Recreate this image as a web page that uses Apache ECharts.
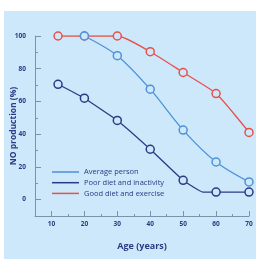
<!DOCTYPE html>
<html><head><meta charset="utf-8">
<script src="https://cdn.jsdelivr.net/npm/echarts@6/dist/echarts.min.js"></script>
<style>html,body{margin:0;padding:0;background:#fff}#c{width:256px;height:259px}</style>
</head><body><div id="c"></div>
<script>
const seriesNames = ['Average person', 'Poor diet and inactivity', 'Good diet and exercise'];
const avgAges = [20, 30, 40, 50, 60, 70];
const avgValues = [100, 88, 67.5, 42.5, 23, 10.8];
const poorAges = [12, 20, 30, 40, 50, 56, 60, 70];
const poorValues = [70.5, 62, 48.4, 30.8, 11.8, 4.6, 4.6, 4.6];
const poorMarked = [true, true, true, true, true, false, true, true];
const goodAges = [12, 20, 30, 40, 50, 60, 70];
const goodValues = [100, 100, 100, 90.4, 77.7, 64.8, 41.1];
const xTickLabels = [10, 20, 30, 40, 50, 60, 70];
const xMinorTicks = [15, 25, 35, 45, 55, 65];
const yTickLabels = [0, 20, 40, 60, 80, 100];
const yMinorTicks = [-10, 10, 30, 50, 70, 90];

const BG = '#cce8fa';
const NAVY = '#2b3a85';
const BLUE = '#4f92d6';
const RED = '#e8504a';
const AXIS = '#7c91aa';

const pairs = (xs, ys) => xs.map((x, i) => [x, ys[i]]);
const font = '"Open Sans", "DejaVu Sans", sans-serif';

const sym = (color) => ({
  type: 'line',
  symbol: 'circle',
  symbolSize: 8,
  lineStyle: { color: color, width: 1.3 },
  itemStyle: { color: BG, borderColor: color, borderWidth: 1.5 },
  emphasis: { disabled: true }
});

const chart = echarts.init(document.getElementById('c'), null, { renderer: 'canvas' });
chart.setOption({
  animation: false,
  graphic: [{ type: 'rect', z: -10, shape: { x: 4, y: 11, width: 252, height: 248 }, style: { fill: BG } }],
  grid: { left: 35, right: 7, top: 36, bottom: 43, containLabel: false, outerBoundsMode: 'none' },
  legend: {
    orient: 'vertical', left: 52, top: 167, padding: 0, icon: 'rect', itemWidth: 27, itemHeight: 1.5, itemGap: 0.7,
    textStyle: { color: NAVY, fontSize: 7.5, fontFamily: font, lineHeight: 10, padding: [0, 0, 0, 0] },
    data: [
      { name: seriesNames[0], itemStyle: { color: BLUE, borderWidth: 0 } },
      { name: seriesNames[1], itemStyle: { color: NAVY, borderWidth: 0 } },
      { name: seriesNames[2], itemStyle: { color: RED, borderWidth: 0 } }
    ]
  },
  xAxis: [{
    type: 'value', min: 5, max: 70,
    name: 'Age (years)', nameLocation: 'middle', nameGap: 26, nameMoveOverlap: false,
    nameTextStyle: { color: NAVY, fontSize: 9, fontWeight: 'bold', fontFamily: font },
    axisLine: { show: true, onZero: false, lineStyle: { color: AXIS, width: 1 } },
    axisTick: { show: true, inside: true, length: 5, lineStyle: { color: AXIS }, customValues: xTickLabels },
    axisLabel: { color: NAVY, fontSize: 6.5, fontWeight: 'bold', fontFamily: font, margin: 5, customValues: xTickLabels },
    splitLine: { show: false }
  }, {
    type: 'value', min: 5, max: 70, position: 'bottom',
    axisLine: { show: false, onZero: false },
    axisTick: { show: true, inside: true, length: 2, lineStyle: { color: AXIS }, customValues: xMinorTicks },
    axisLabel: { show: false },
    splitLine: { show: false }
  }],
  yAxis: [{
    type: 'value', min: -10, max: 100,
    name: 'NO production (%)', nameLocation: 'middle', nameGap: 17, nameRotate: 90, nameMoveOverlap: false,
    nameTextStyle: { color: NAVY, fontSize: 8.5, fontWeight: 'bold', fontFamily: font },
    axisLine: { show: true, onZero: false, lineStyle: { color: AXIS, width: 1 } },
    axisTick: { show: true, inside: true, length: 6, lineStyle: { color: AXIS }, customValues: yTickLabels },
    axisLabel: { color: NAVY, fontSize: 6.5, fontWeight: 'bold', fontFamily: font, margin: 9, customValues: yTickLabels },
    splitLine: { show: false }
  }, {
    type: 'value', min: -10, max: 100, position: 'left',
    axisLine: { show: false, onZero: false },
    axisTick: { show: true, inside: true, length: 3, lineStyle: { color: AXIS }, customValues: yMinorTicks },
    axisLabel: { show: false },
    splitLine: { show: false }
  }],
  series: [
    Object.assign(sym(RED), { name: seriesNames[2], smooth: 0.2, data: pairs(goodAges, goodValues) }),
    Object.assign(sym(BLUE), { name: seriesNames[0], smooth: 0.3, data: pairs(avgAges, avgValues) }),
    Object.assign(sym(NAVY), { name: seriesNames[1], smooth: 0.1,
      data: poorAges.map((x, i) => poorMarked[i] ? [x, poorValues[i]] : { value: [x, poorValues[i]], symbol: 'none' }) })
  ]
});
</script></body></html>
